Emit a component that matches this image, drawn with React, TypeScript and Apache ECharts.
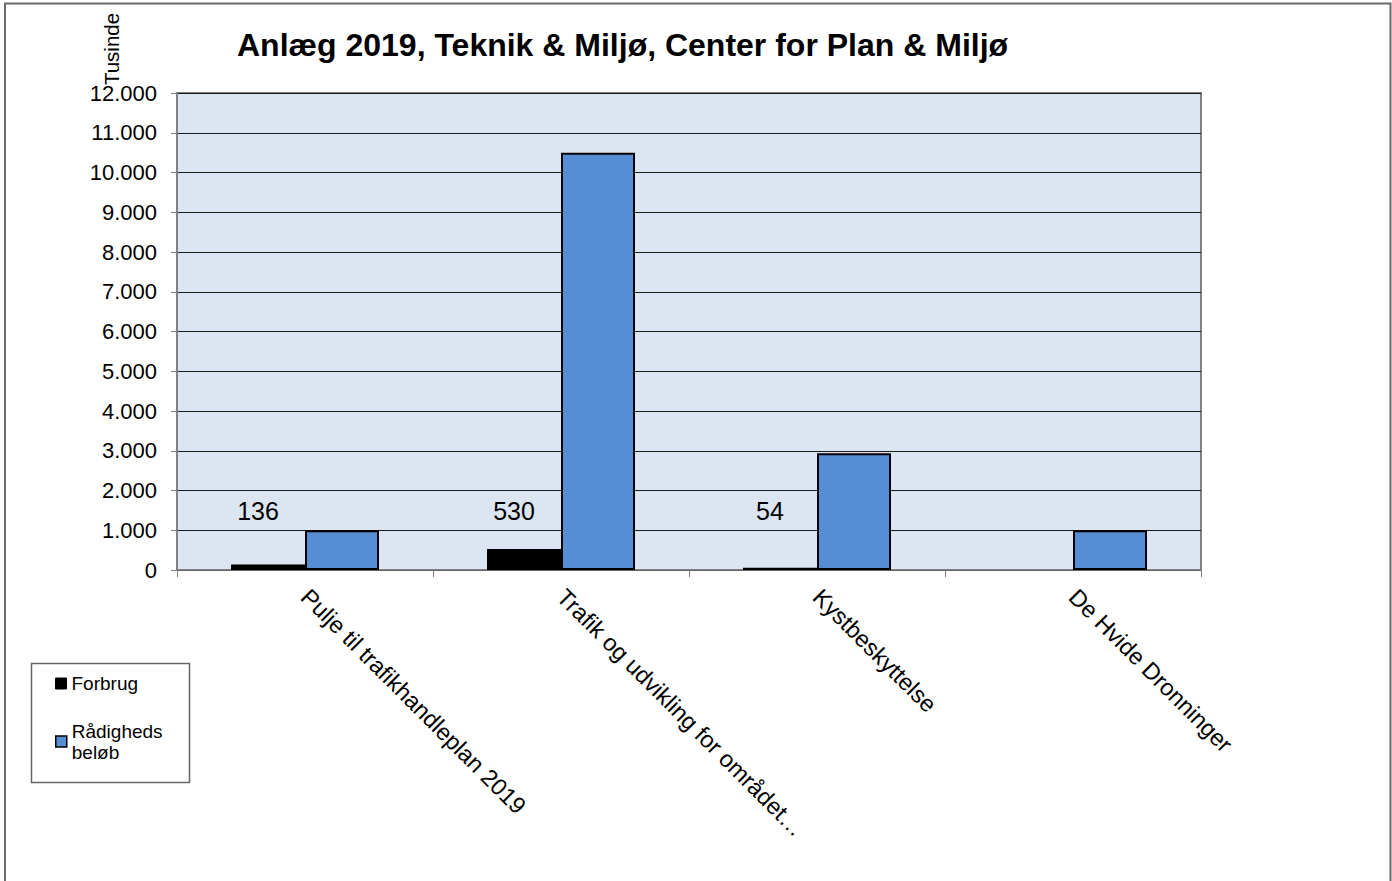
import React, { useEffect, useRef } from "react";
import * as echarts from "echarts";

const categories = [
  "Pulje til trafikhandleplan 2019",
  "Trafik og udvikling for området…",
  "Kystbeskyttelse",
  "De Hvide Dronninger",
];
const forbrug: (number | null)[] = [136, 530, 54, null];
const raadighed: number[] = [1000, 10500, 2935, 1000];
const seriesNames = ["Forbrug", "Rådigheds beløb"];
const titleText = "Anlæg 2019, Teknik & Miljø, Center for Plan & Miljø";
const unitText = "Tusinde";

const FONT = "'Liberation Sans', Arial, sans-serif";

const fmt = (v: number) =>
  String(Math.round(v)).replace(/\B(?=(\d{3})+(?!\d))/g, ".");

export default function App() {
  const ref = useRef<HTMLDivElement>(null);
  useEffect(() => {
    if (!ref.current) return;
    const chart = echarts.init(ref.current, undefined, { renderer: "svg" });
    chart.setOption({
      animation: false,
      backgroundColor: "#ffffff",
      textStyle: { fontFamily: FONT },
      title: {
        text: titleText,
        left: 237,
        top: 29,
        padding: 0,
        textStyle: { fontFamily: FONT, fontSize: 32, fontWeight: "bold", color: "#000" },
      },
      graphic: [
        {
          type: "rect",
          shape: { x: 5, y: 3.5, width: 1385.5, height: 900 },
          style: { fill: "none", stroke: "#6b6b6b", lineWidth: 2 },
          silent: true,
        },
        {
          type: "rect",
          shape: { x: 31.5, y: 663.5, width: 158, height: 119 },
          style: { fill: "#fff", stroke: "#666", lineWidth: 1.5 },
          silent: true,
          z: -1,
        },
        {
          type: "text",
          x: 111,
          y: 49,
          rotation: Math.PI / 2,
          style: {
            text: unitText,
            fontFamily: FONT,
            fontSize: 20.5,
            fill: "#000",
            align: "center",
            verticalAlign: "middle",
          },
        },
      ],
      legend: [
        {
          data: [seriesNames[0]],
          left: 55,
          top: 673,
          padding: 0,
          icon: "rect",
          itemWidth: 11,
          itemHeight: 11,
          textStyle: { fontFamily: FONT, fontSize: 19, color: "#000", lineHeight: 21 },
          itemStyle: { borderWidth: 1 },
        },
        {
          data: [seriesNames[1]],
          left: 55,
          top: 710,
          padding: 0,
          icon: "rect",
          itemWidth: 11,
          itemHeight: 11,
          formatter: (n: string) => n.replace(" ", "\n"),
          textStyle: {
            fontFamily: FONT,
            fontSize: 19,
            color: "#000",
            lineHeight: 21,
            padding: [21, 0, 0, 0],
          },
          itemStyle: { borderWidth: 1.5, borderColor: "#000" },
        },
      ],
      grid: {
        left: 177,
        right: 191,
        top: 93,
        bottom: 311,
        show: true,
        backgroundColor: "#DCE6F2",
        borderColor: "#808080",
        borderWidth: 2,
        containLabel: false,
      },
      xAxis: {
        type: "category",
        data: categories,
        axisLine: { show: true, lineStyle: { color: "#808080", width: 1.5 } },
        axisTick: { show: true, alignWithLabel: false, length: 7, lineStyle: { color: "#808080" } },
        axisLabel: {
          interval: 0,
          rotate: -45,
          margin: 23,
          fontFamily: FONT,
          fontSize: 23.5,
          color: "#000",
        },
        splitLine: { show: false },
      },
      yAxis: {
        type: "value",
        min: 0,
        max: 12000,
        interval: 1000,
        axisLine: { show: true, lineStyle: { color: "#808080", width: 2 } },
        axisTick: { show: true, length: 6, lineStyle: { color: "#808080" } },
        axisLabel: {
          margin: 20,
          fontFamily: FONT,
          fontSize: 22,
          color: "#000",
          formatter: (v: number) => fmt(v),
        },
        splitLine: { show: true, lineStyle: { color: "#1a1a1a", width: 1 } },
      },
      series: [
        {
          name: seriesNames[0],
          type: "bar",
          data: forbrug,
          barWidth: 74,
          barGap: "0%",
          itemStyle: { color: "#000", borderColor: "#000", borderWidth: 2 },
          label: {
            show: true,
            position: "insideBottom",
            distance: 5,
            offset: [-10, -42],
            fontFamily: FONT,
            fontSize: 25,
            color: "#000",
            formatter: (p: any) => fmt(p.value),
          },
        },
        {
          name: seriesNames[1],
          type: "bar",
          data: raadighed,
          barWidth: 74,
          barGap: "0%",
          itemStyle: { color: "#558ED5", borderColor: "#000", borderWidth: 2 },
        },
      ],
    });
    return () => chart.dispose();
  }, []);
  return (
    <div
      ref={ref}
      style={{ position: "absolute", left: 0, top: 0, width: 1392, height: 881 }}
    />
  );
}
